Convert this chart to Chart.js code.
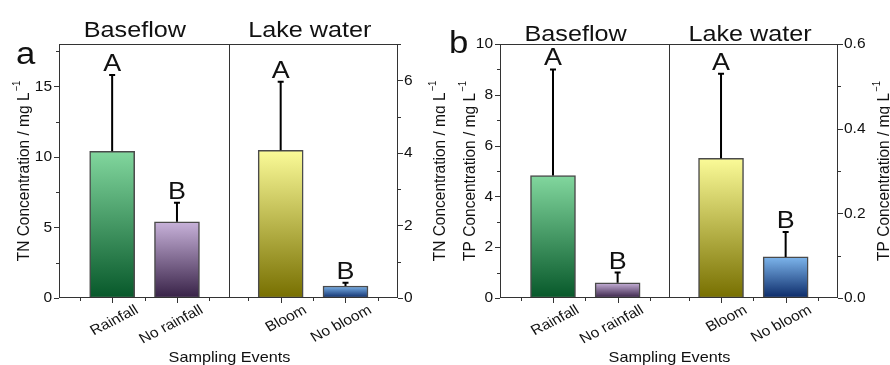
<!DOCTYPE html>
<html>
<head>
<meta charset="utf-8">
<script src="https://cdn.jsdelivr.net/npm/chart.js@4.4.1/dist/chart.umd.min.js"></script>
<style>
  html, body { margin: 0; padding: 0; background: #fff; }
  .wrap { display: flex; width: 890px; height: 365px; }
  .panel { width: 445px; height: 365px; }
</style>
</head>
<body>
<div class="wrap">
  <div class="panel"><canvas id="tnChart" width="445" height="365"></canvas></div>
  <div class="panel"><canvas id="tpChart" width="445" height="365"></canvas></div>
</div>
<script>
const baseflowCats = ['Rainfall', 'No rainfall'];
const lakeCats = ['Bloom', 'No bloom'];
const groupNames = ['Baseflow', 'Lake water'];
const groupLetters = ['A', 'B'];

// TN, mg/L (baseflow on left axis, lake water on right axis)
const tnBaseflow = [10.4, 5.4];
const tnBaseflowUpper = [15.8, 6.75];
const tnLake = [4.07, 0.33];
const tnLakeUpper = [5.96, 0.42];

// TP, mg/L
const tpBaseflow = [4.82, 0.6];
const tpBaseflowUpper = [9.0, 1.0];
const tpLake = [0.33, 0.097];
const tpLakeUpper = [0.53, 0.156];

// where the categories sit on the x scale, and the group divider
const slots = [1, 2, 3.6, 4.6];
const divider = 2.8;
const titleAt = [1.35, 4.05];

const baseflowTop = ['#82d79e', '#c8b2da'];
const baseflowBottom = ['#07582a', '#372146'];
const lakeTop = ['#fbfb98', '#7db5ec'];
const lakeBottom = ['#776f00', '#0b2a68'];

const FONT = '"Liberation Sans", Arial, sans-serif';
const SX = 1.12;

function txt(ctx, s, x, y, size, align, base, angle) {
  ctx.save();
  ctx.translate(x, y);
  ctx.scale(SX, 1);
  if (angle) ctx.rotate(angle);
  ctx.font = size + 'px ' + FONT;
  ctx.textAlign = align;
  ctx.textBaseline = base;
  ctx.fillStyle = '#111';
  ctx.fillText(s, 0, 0);
  ctx.restore();
}

function unitTitle(ctx, s, x, y) {
  ctx.save();
  ctx.translate(x, y);
  ctx.scale(SX, 1);
  ctx.rotate(-Math.PI / 2);
  ctx.fillStyle = '#111';
  ctx.textBaseline = 'middle';
  ctx.textAlign = 'left';
  ctx.font = '15.5px ' + FONT;
  const w = ctx.measureText(s).width;
  ctx.font = '9.5px ' + FONT;
  const sw = ctx.measureText('\u22121').width;
  const x0 = -(w + sw + 1) / 2;
  ctx.font = '15.5px ' + FONT;
  ctx.fillText(s, x0, 0);
  ctx.font = '9.5px ' + FONT;
  ctx.fillText('\u22121', x0 + w + 1, -6);
  ctx.restore();
}

function gradientFill(tops, bottoms) {
  return c => {
    const ch = c.chart;
    const ys = ch.scales[c.dataset.yAxisID];
    if (!ys || !c.parsed) return tops[c.dataIndex];
    const y0 = ys.getPixelForValue(c.parsed.y);
    const y1 = ys.getPixelForValue(0);
    if (!isFinite(y0) || !isFinite(y1) || y1 - y0 < 0.5) return tops[c.dataIndex];
    const g = ch.ctx.createLinearGradient(0, y0, 0, y1);
    g.addColorStop(0, tops[c.dataIndex]);
    g.addColorStop(1, bottoms[c.dataIndex]);
    return g;
  };
}

function isMajor(v, major) {
  const r = v / major;
  return Math.abs(r - Math.round(r)) < 1e-6;
}

const decorations = {
  id: 'decorations',
  afterDatasetsDraw(chart, args, o) {
    const ctx = chart.ctx;
    const a = chart.chartArea;
    const xs = chart.scales.x;

    // error bars and significance letters
    chart.data.datasets.forEach((ds, di) => {
      const ys = chart.scales[ds.yAxisID];
      chart.getDatasetMeta(di).data.forEach((el, i) => {
        const yt = ys.getPixelForValue(ds.upper[i]);
        ctx.save();
        ctx.strokeStyle = '#000';
        ctx.lineWidth = 2;
        ctx.beginPath();
        ctx.moveTo(el.x, el.y);
        ctx.lineTo(el.x, yt);
        ctx.moveTo(el.x - 3, yt);
        ctx.lineTo(el.x + 3, yt);
        ctx.stroke();
        ctx.restore();
        txt(ctx, groupLetters[i], el.x, yt - 4, 24, 'center', 'alphabetic');
      });
    });

    ctx.save();
    ctx.strokeStyle = '#333';
    ctx.lineWidth = 1;
    // frame
    ctx.strokeRect(a.left + 0.5, a.top + 0.5, a.right - a.left - 1, a.bottom - a.top - 1);
    // group divider
    const dx = Math.round(xs.getPixelForValue(divider)) + 0.5;
    ctx.beginPath();
    ctx.moveTo(dx, a.top);
    ctx.lineTo(dx, a.bottom);
    ctx.stroke();

    // x ticks
    const minor = [];
    slots.forEach(s => [s - 0.5, s + 0.5].forEach(m => {
      if (!minor.some(v => Math.abs(v - m) < 1e-6)) minor.push(m);
    }));
    ctx.beginPath();
    slots.forEach(s => {
      const px = Math.round(xs.getPixelForValue(s)) + 0.5;
      ctx.moveTo(px, a.bottom);
      ctx.lineTo(px, a.bottom + 5);
    });
    minor.forEach(s => {
      const px = Math.round(xs.getPixelForValue(s)) + 0.5;
      ctx.moveTo(px, a.bottom);
      ctx.lineTo(px, a.bottom + 3);
    });
    // y ticks (outward)
    [['y', -1], ['y2', 1]].forEach(([id, dir]) => {
      const ys = chart.scales[id];
      const step = ys.options.ticks.stepSize;
      const edge = dir < 0 ? a.left : a.right;
      for (let k = 0; k * step <= ys.max + 1e-9; k++) {
        const v = k * step;
        const py = Math.round(ys.getPixelForValue(v)) + 0.5;
        const len = isMajor(v, o[id + 'Major']) ? 5 : 3;
        ctx.moveTo(edge, py);
        ctx.lineTo(edge + dir * len, py);
      }
    });
    ctx.stroke();
    ctx.restore();

    // category labels
    const names = baseflowCats.concat(lakeCats);
    const ang = -Math.atan(SX * Math.tan(27 * Math.PI / 180));
    slots.forEach((s, i) => {
      const px = xs.getPixelForValue(s);
      txt(ctx, names[i], px + 21, a.bottom + 5, 14, 'right', 'top', ang);
    });
    txt(ctx, 'Sampling Events', dx, 362, 14.5, 'center', 'alphabetic');

    // group titles and panel letter
    groupNames.forEach((g, i) => {
      txt(ctx, g, xs.getPixelForValue(titleAt[i]), o.titleY, 22.5, 'center', 'alphabetic');
    });
    txt(ctx, o.letter, o.letterX, o.letterY, 31, 'left', 'alphabetic');

    // axis titles
    const cy = (a.top + a.bottom) / 2;
    unitTitle(ctx, o.unit, o.leftTitleX, cy);
    unitTitle(ctx, o.unit, o.rightTitleX, cy);
  }
};

function makePanel(id, p) {
  const tickFont = { family: FONT, size: 15.5 };
  new Chart(document.getElementById(id), {
    type: 'bar',
    data: {
      datasets: [
        {
          label: groupNames[0],
          data: p.base.map((v, i) => ({ x: slots[i], y: v })),
          upper: p.baseUpper,
          yAxisID: 'y',
          backgroundColor: gradientFill(baseflowTop, baseflowBottom),
          borderColor: '#4a4a4a',
          borderWidth: 1.5,
          borderSkipped: false,
          barThickness: 45,
          grouped: false
        },
        {
          label: groupNames[1],
          data: p.lake.map((v, i) => ({ x: slots[i + 2], y: v })),
          upper: p.lakeUpper,
          yAxisID: 'y2',
          backgroundColor: gradientFill(lakeTop, lakeBottom),
          borderColor: '#4a4a4a',
          borderWidth: 1.5,
          borderSkipped: false,
          barThickness: 45,
          grouped: false
        }
      ]
    },
    options: {
      responsive: false,
      animation: false,
      layout: { padding: { top: 44, left: 0, right: 0, bottom: 0 } },
      plugins: {
        legend: { display: false },
        tooltip: { enabled: false },
        decorations: {
          letter: p.letter, letterX: p.letterX, letterY: p.letterY,
          titleY: p.titleY, unit: p.unit,
          leftTitleX: p.leftTitleX, rightTitleX: p.rightTitleX,
          yMajor: p.left.major, y2Major: p.right.major
        }
      },
      scales: {
        x: {
          type: 'linear', min: 0.18, max: 5.41, offset: false,
          grid: { display: false, drawTicks: false, offset: false },
          border: { display: false },
          ticks: { display: false },
          afterFit: s => { s.height = 67; }
        },
        y: {
          position: 'left', min: 0, max: p.left.max,
          grid: { display: false, drawTicks: false },
          border: { display: false },
          ticks: {
            stepSize: p.left.step, autoSkip: false, padding: 7,
            font: tickFont, color: '#111',
            callback: v => isMajor(v, p.left.major) ? p.left.fmt(v) : ''
          },
          afterFit: s => { s.width = p.leftWidth; }
        },
        y2: {
          position: 'right', min: 0, max: p.right.max,
          grid: { display: false, drawTicks: false },
          border: { display: false },
          ticks: {
            stepSize: p.right.step, autoSkip: false, padding: 6,
            font: tickFont, color: '#111',
            callback: v => isMajor(v, p.right.major) ? p.right.fmt(v) : ''
          },
          afterFit: s => { s.width = p.rightWidth; }
        }
      }
    },
    plugins: [decorations]
  });
}

makePanel('tnChart', {
  base: tnBaseflow, baseUpper: tnBaseflowUpper,
  lake: tnLake, lakeUpper: tnLakeUpper,
  left: { max: 18, step: 2.5, major: 5, fmt: v => String(v) },
  right: { max: 7, step: 1, major: 2, fmt: v => String(v) },
  leftWidth: 59, rightWidth: 47,
  letter: 'a', letterX: 16, letterY: 64, titleY: 37, leftTitleX: 24, rightTitleX: 440,
  unit: 'TN Concentration / mg L'
});

makePanel('tpChart', {
  base: tpBaseflow, baseUpper: tpBaseflowUpper,
  lake: tpLake, lakeUpper: tpLakeUpper,
  left: { max: 10, step: 1, major: 2, fmt: v => String(Math.round(v)) },
  right: { max: 0.6, step: 0.1, major: 0.2, fmt: v => v.toFixed(1) },
  leftWidth: 55, rightWidth: 52,
  letter: 'b', letterX: 4, letterY: 53, titleY: 41, leftTitleX: 25, rightTitleX: 439,
  unit: 'TP Concentration / mg L'
});
</script>
</body>
</html>
